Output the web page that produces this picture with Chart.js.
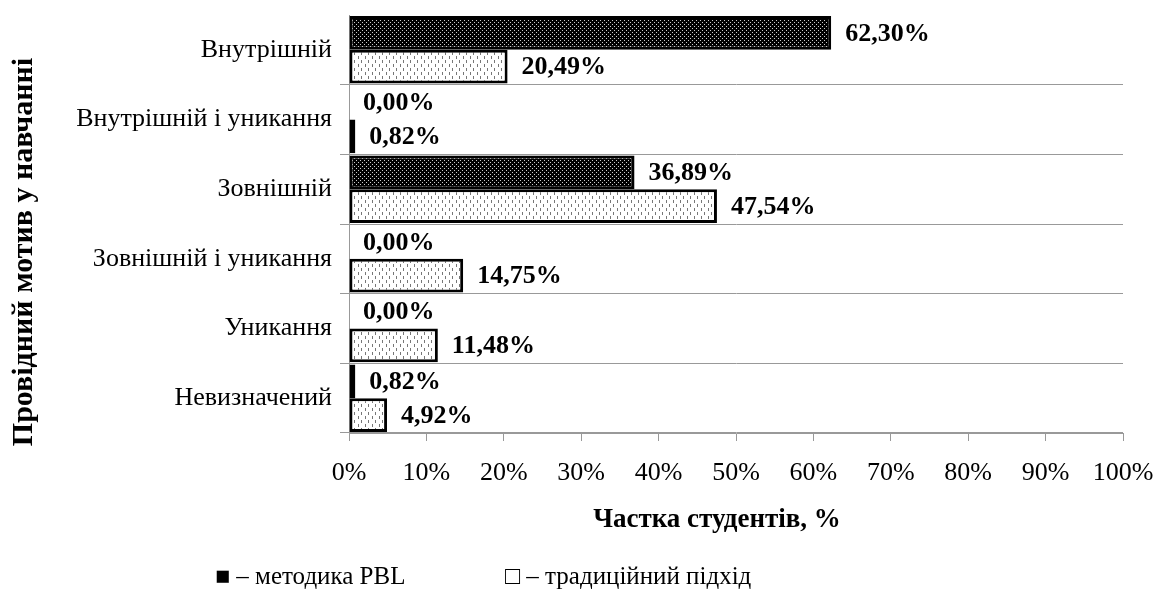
<!DOCTYPE html>
<html lang="uk">
<head>
  <meta charset="UTF-8" />
  <title>Провідний мотив у навчанні</title>
  <script src="https://cdn.jsdelivr.net/npm/chart.js"></script>
  <style>
    body { margin: 0; background: #fff; }
    .wrap { position: relative; width: 1158px; height: 605px; }
    .legenda { position: absolute; top: 562px; font: 25px "Liberation Serif", serif; color: #000; white-space: nowrap; }
  </style>
</head>
<body>
  <div class="wrap">
    <canvas id="grafik" width="1158" height="605"></canvas>
    <div class="legenda" style="left:215px">■ – методика PBL</div>
    <div class="legenda" style="left:505px">□ – традиційний підхід</div>
  </div>

  <script>
    // дані
    const kategorii = ['Внутрішній', 'Внутрішній і уникання', 'Зовнішній', 'Зовнішній і уникання', 'Уникання', 'Невизначений'];
    const pbl = [62.30, 0.00, 36.89, 0.00, 0.00, 0.82];
    const tradytsiinyi = [20.49, 0.82, 47.54, 14.75, 11.48, 4.92];
    const xTicks = [0, 10, 20, 30, 40, 50, 60, 70, 80, 90, 100];
    const tytulX = 'Частка студентів, %';
    const tytulY = 'Провідний мотив у навчанні';

    const shryft = '"Liberation Serif", serif';

    // візерунки заливки
    function temnyiVizerunok() {
      const c = document.createElement('canvas');
      c.width = 4; c.height = 4;
      const g = c.getContext('2d');
      g.fillStyle = '#000';
      g.fillRect(0, 0, 4, 4);
      g.fillStyle = '#ccc';
      g.fillRect(0, 0, 1, 1);
      g.fillRect(2, 2, 1, 1);
      return g.createPattern(c, 'repeat');
    }
    function svitlyiVizerunok() {
      const c = document.createElement('canvas');
      c.width = 7; c.height = 8;
      const g = c.getContext('2d');
      g.fillStyle = '#fff';
      g.fillRect(0, 0, 7, 8);
      g.fillStyle = '#777';
      g.fillRect(1, 0, 1, 3);
      g.fillRect(4, 4, 1, 3);
      return g.createPattern(c, 'repeat');
    }

    // підписи значень і назви осей
    const pidpysy = {
      id: 'pidpysy',
      afterDatasetsDraw(chart) {
        const ctx = chart.ctx;
        ctx.save();
        ctx.fillStyle = '#000';
        ctx.font = 'bold 26px ' + shryft;
        ctx.textBaseline = 'middle';
        ctx.textAlign = 'left';
        chart.data.datasets.forEach((ds, i) => {
          const meta = chart.getDatasetMeta(i);
          meta.data.forEach((bar, j) => {
            const v = ds.data[j];
            const x = chart.scales.x.getPixelForValue(v) + 14;
            ctx.fillText(v.toFixed(2).replace('.', ',') + '%', x, bar.y + 1);
          });
        });
        ctx.textAlign = 'center';
        ctx.font = 'bold 27px ' + shryft;
        ctx.fillText(tytulX, 717, 520);
        ctx.font = 'bold 30px ' + shryft;
        ctx.translate(24, 252);
        ctx.rotate(-Math.PI / 2);
        ctx.fillText(tytulY, 0, 0);
        ctx.restore();
      }
    };

    // прибрати зайві відступи від підписів осей
    function bezVidstupiv(s) {
      s.paddingTop = 0;
      s.paddingBottom = 0;
      s.paddingLeft = 0;
      s.paddingRight = 0;
    }

    const ctx = document.getElementById('grafik').getContext('2d');
    new Chart(ctx, {
      type: 'bar',
      data: {
        labels: kategorii,
        datasets: [{
          label: 'методика PBL',
          data: pbl,
          backgroundColor: temnyiVizerunok(),
          borderColor: '#000',
          borderWidth: 3,
          borderSkipped: false
        }, {
          label: 'традиційний підхід',
          data: tradytsiinyi,
          backgroundColor: svitlyiVizerunok(),
          borderColor: '#000',
          borderWidth: 3,
          borderSkipped: false
        }]
      },
      options: {
        indexAxis: 'y',
        responsive: false,
        animation: false,
        layout: { padding: { top: 15, right: 35, left: 0, bottom: 0 } },
        categoryPercentage: 0.97,
        barPercentage: 1,
        plugins: {
          legend: { display: false },
          tooltip: { enabled: false }
        },
        scales: {
          x: {
            min: 0,
            max: 100,
            afterFit: (s) => { s.height = 172; bezVidstupiv(s); },
            afterBuildTicks: (s) => { s.ticks = xTicks.map(v => ({ value: v })); },
            ticks: {
              color: '#000',
              padding: 17,
              font: { family: shryft, size: 26 },
              callback: (v) => v + '%'
            },
            grid: { drawOnChartArea: false, tickLength: 8, color: '#999' },
            border: { color: '#999' }
          },
          y: {
            afterFit: (s) => { s.width = 349; bezVidstupiv(s); },
            ticks: {
              color: '#000',
              padding: 8,
              font: { family: shryft, size: 26 }
            },
            grid: {
              offset: true,
              tickLength: 9,
              color: (c) => c.index === 0 ? 'rgba(0,0,0,0)' : '#999'
            },
            border: { color: '#999' }
          }
        }
      },
      plugins: [pidpysy]
    });
  </script>
</body>
</html>
